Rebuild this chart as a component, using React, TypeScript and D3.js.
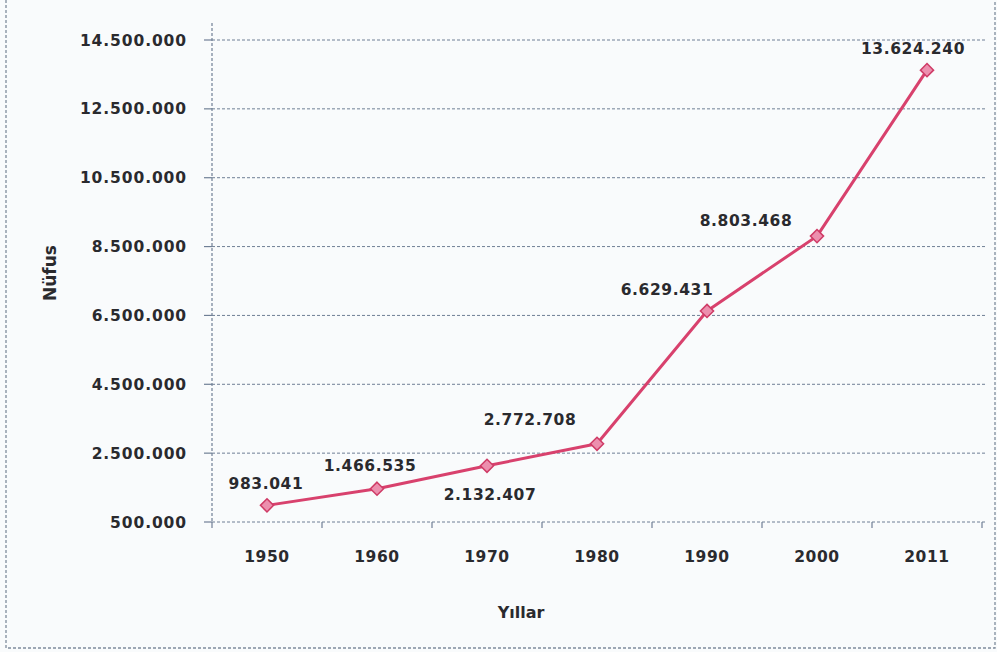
import React, { useEffect, useRef } from 'react';
import * as d3 from 'd3';

const years = ['1950', '1960', '1970', '1980', '1990', '2000', '2011'];
const population = [983041, 1466535, 2132407, 2772708, 6629431, 8803468, 13624240];
const yTicks = [500000, 2500000, 4500000, 6500000, 8500000, 10500000, 12500000, 14500000];
// label placement relative to each marker: [dx, dy]
const labelShift: [number, number][] = [
  [-1, -16], [-7, -18], [3, 34], [-67, -19], [-40, -16], [-71, -10], [-14, -16],
];

const W = 997;
const H = 652;
const FONT = '"DejaVu Sans", Verdana, sans-serif';

const fmt = (v: number) => d3.format(',')(v).replace(/,/g, '.');

const App = () => {
  const svgRef = useRef<SVGSVGElement | null>(null);

  useEffect(() => {
    if (!svgRef.current) return;
    const svg = d3.select(svgRef.current);
    svg.selectAll('*').remove();

    const left = 212, right = 982, top = 40, bottom = 522;

    // background
    svg.append('rect').attr('width', W).attr('height', H).attr('fill', '#f9fbfc');

    // chart frame
    svg.append('rect')
      .attr('x', 6).attr('y', -4).attr('width', 989).attr('height', 652)
      .attr('fill', 'none').attr('stroke', '#7f8c9c').attr('stroke-width', 1.3)
      .attr('stroke-dasharray', '3,2');

    const x = d3.scalePoint<string>().domain(years).range([left, right]).padding(0.5);
    const y = d3.scaleLinear().domain([500000, 14500000]).range([bottom, top]);
    const step = x.step();

    // gridlines
    svg.append('g').selectAll('line').data(yTicks).enter().append('line')
      .attr('x1', left).attr('x2', right + 3)
      .attr('y1', d => y(d)).attr('y2', d => y(d))
      .attr('stroke', '#6f7f95').attr('stroke-width', 1)
      .attr('stroke-dasharray', '3,2');

    // y axis line
    svg.append('line')
      .attr('x1', left).attr('x2', left).attr('y1', 23).attr('y2', bottom)
      .attr('stroke', '#6f7f95').attr('stroke-width', 1.2).attr('stroke-dasharray', '3,2');

    // y ticks + labels
    const yg = svg.append('g');
    yg.selectAll('line').data(yTicks).enter().append('line')
      .attr('x1', left - 8).attr('x2', left)
      .attr('y1', d => y(d)).attr('y2', d => y(d))
      .attr('stroke', '#6f7f95').attr('stroke-width', 1.2);
    yg.selectAll('text').data(yTicks).enter().append('text')
      .attr('x', 187).attr('y', d => y(d)).attr('dy', '0.36em')
      .attr('text-anchor', 'end')
      .attr('font-family', FONT).attr('font-size', 15.5).attr('font-weight', 'bold')
      .attr('letter-spacing', 0.9).attr('fill', '#2a2a2e')
      .text(d => fmt(d));

    // x ticks between categories
    const xb = d3.range(years.length + 1).map(i => left + i * step);
    svg.append('g').selectAll('line').data(xb).enter().append('line')
      .attr('x1', d => d).attr('x2', d => d).attr('y1', bottom).attr('y2', bottom + 6)
      .attr('stroke', '#6f7f95').attr('stroke-width', 1.2);

    // x labels
    svg.append('g').selectAll('text').data(years).enter().append('text')
      .attr('x', d => x(d) as number).attr('y', 562)
      .attr('text-anchor', 'middle')
      .attr('font-family', FONT).attr('font-size', 15.5).attr('font-weight', 'bold')
      .attr('letter-spacing', 0.6).attr('fill', '#2a2a2e')
      .text(d => d);

    // axis titles
    svg.append('text')
      .attr('x', 521).attr('y', 618).attr('text-anchor', 'middle')
      .attr('font-family', FONT).attr('font-size', 16).attr('font-weight', 'bold')
      .attr('fill', '#2a2a2e').text('Yıllar');
    svg.append('text')
      .attr('transform', 'translate(56,273) rotate(-90)').attr('text-anchor', 'middle')
      .attr('font-family', FONT).attr('font-size', 17).attr('font-weight', 'bold')
      .attr('fill', '#2a2a2e').text('Nüfus');

    // line
    const pts = years.map((yr, i) => [x(yr) as number, y(population[i])] as [number, number]);
    svg.append('path')
      .attr('d', d3.line()(pts) as string)
      .attr('fill', 'none').attr('stroke', '#d8416d').attr('stroke-width', 3)
      .attr('stroke-linejoin', 'round');

    // diamond markers
    const diamond = d3.symbol().type(d3.symbolDiamond2).size(110)();
    svg.append('g').selectAll('path').data(pts).enter().append('path')
      .attr('d', diamond as string)
      .attr('transform', d => `translate(${d[0]},${d[1]})`)
      .attr('fill', '#ec8fae').attr('stroke', '#cf3b66').attr('stroke-width', 1.5);

    // data labels
    svg.append('g').selectAll('text').data(pts).enter().append('text')
      .attr('x', (d, i) => d[0] + labelShift[i][0])
      .attr('y', (d, i) => d[1] + labelShift[i][1])
      .attr('text-anchor', 'middle')
      .attr('font-family', FONT).attr('font-size', 15.5).attr('font-weight', 'bold')
      .attr('letter-spacing', 0.6).attr('fill', '#2a2a2e')
      .text((d, i) => fmt(population[i]));
  }, []);

  return (
    <svg
      ref={svgRef}
      width={W}
      height={H}
      viewBox={`0 0 ${W} ${H}`}
      style={{ position: 'absolute', left: 0, top: 0, display: 'block' }}
    />
  );
};

export default App;
